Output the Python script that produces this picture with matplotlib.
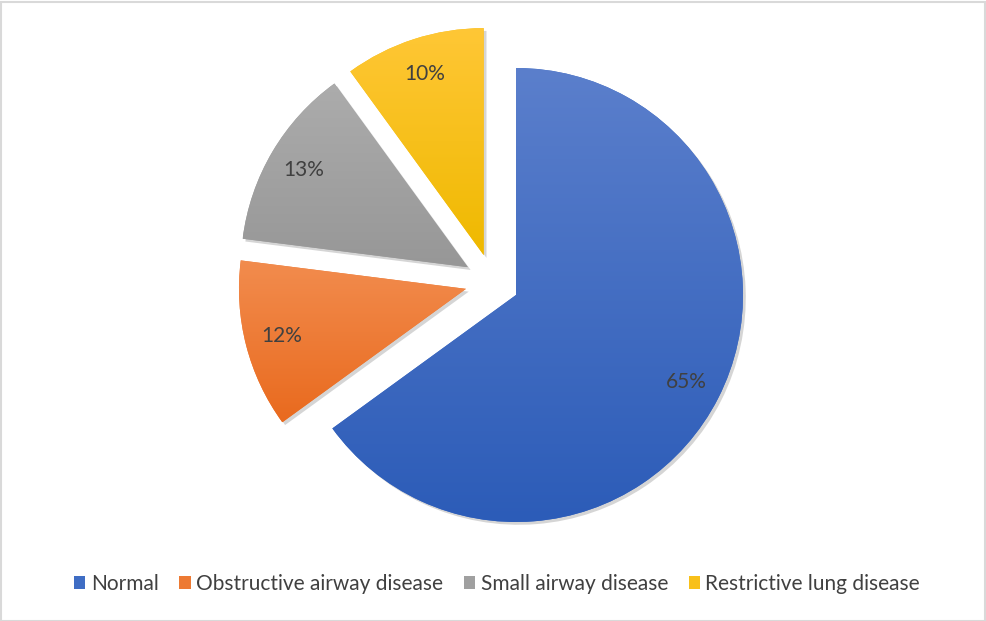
import numpy as np
import matplotlib
matplotlib.use("Agg")
from matplotlib import pyplot as plt
from matplotlib.colors import LinearSegmentedColormap
from matplotlib.patches import Patch, Rectangle
import matplotlib.patheffects as pe

# data
labels = ["Normal", "Obstructive airway disease", "Small airway disease", "Restrictive lung disease"]
shares = [65, 12, 13, 10]

# style / layout
top_cols = ["#5B7FCC", "#F28C4E", "#ACACAC", "#FFC736"]
bot_cols = ["#2C5CB8", "#E96A1E", "#979797", "#EFB900"]
mid_cols = ["#3F6DC4", "#ED7A33", "#A0A0A0", "#F8C01A"]
# how far each slice is pulled out (radius units) and in which direction (deg)
pull = [0.0, 0.222, 0.245, 0.226]
pull_dir = [0, 173, 150, 129]

plt.rcParams["font.family"] = ["Lato", "DejaVu Sans"]

W, H = 986, 621
fig = plt.figure(figsize=(W / 100, H / 100), dpi=100)
ax = fig.add_axes([0, 0, 1, 1])
R_px = 227.0
cx, cy = 516.0, 295.0
xlim = (-cx / R_px, (W - cx) / R_px)
ylim = ((cy - H) / R_px, cy / R_px)

wedges, texts, pcts = ax.pie(shares, startangle=90, counterclock=False, radius=1.0,
                             autopct="%1.0f%%", pctdistance=0.84,
                             colors=mid_cols,
                             wedgeprops=dict(linewidth=0),
                             textprops=dict(color="#404040", fontsize=15))

for i, w in enumerate(wedges):
    a = np.deg2rad(pull_dir[i])
    dx, dy = pull[i] * np.cos(a), pull[i] * np.sin(a)
    w.set_center((dx, dy))
    x, y = pcts[i].get_position()
    pcts[i].set_position((x + dx, y + dy))
    pcts[i].set_zorder(5)
    w.set_path_effects([pe.SimplePatchShadow(offset=(2, -2), shadow_rgbFace="#888888", alpha=0.35),
                        pe.Normal()])
    ext = w.get_path().get_extents()
    cmap = LinearSegmentedColormap.from_list("g%d" % i, [top_cols[i], bot_cols[i]])
    grad = np.linspace(0, 1, 256).reshape(-1, 1)
    im = ax.imshow(grad, cmap=cmap, aspect="auto", origin="upper",
                   extent=[ext.x0, ext.x1, ext.y0, ext.y1], zorder=3, interpolation="bilinear")
    im.set_clip_path(w)

ax.set_xlim(*xlim)
ax.set_ylim(*ylim)
ax.set_aspect("auto")
ax.axis("off")

handles = [Patch(facecolor=mid_cols[i], edgecolor="none") for i in range(len(labels))]
fig.legend(handles, labels, loc="center", bbox_to_anchor=(497 / W, 1 - 584 / H), ncol=4,
           frameon=False, fontsize=15, labelcolor="#404040",
           handlelength=0.55, handleheight=0.55, handletextpad=0.25, columnspacing=1.0)

fig.patches.append(Rectangle((0.5 / W, 0.5 / H), 1 - 2 / W, 1 - 2 / H, transform=fig.transFigure,
                             fill=False, edgecolor="#D9D9D9", linewidth=1.5))

fig.savefig("out.png", dpi=100)
